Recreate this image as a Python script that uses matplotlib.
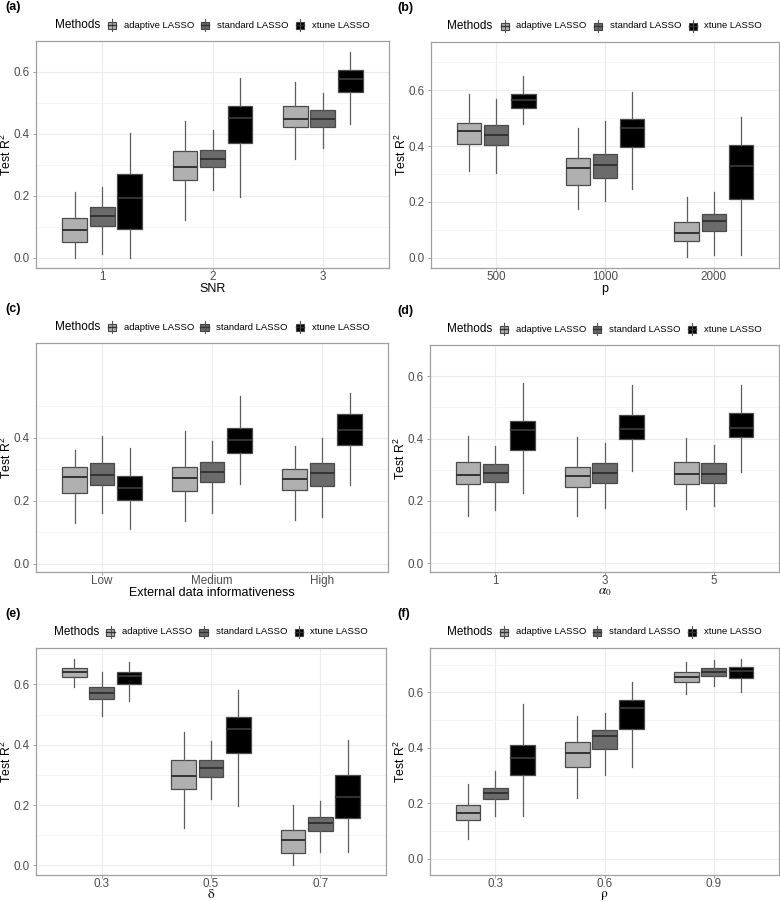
import matplotlib
matplotlib.use("Agg")
import matplotlib.pyplot as plt
from matplotlib.patches import Rectangle
from matplotlib.lines import Line2D

plt.rcParams['font.family'] = ['Liberation Sans', 'DejaVu Sans']
plt.rcParams['mathtext.fontset'] = 'custom'
plt.rcParams['mathtext.rm'] = 'Liberation Sans'
plt.rcParams['mathtext.it'] = 'Liberation Sans:italic'

methods = ['adaptive LASSO', 'standard LASSO', 'xtune LASSO']
fills = ['#B0B0B0', '#6B6B6B', '#000000']

# each row: [whisker low, q1, median, q3, whisker high], one row per level
snr_levels = ['1', '2', '3']
snr_adaptive = [[0.000, 0.050, 0.091, 0.129, 0.211], [0.121, 0.251, 0.293, 0.346, 0.441], [0.320, 0.421, 0.448, 0.490, 0.566]]
snr_standard = [[0.011, 0.102, 0.136, 0.164, 0.230], [0.220, 0.293, 0.320, 0.348, 0.413], [0.355, 0.421, 0.448, 0.477, 0.533]]
snr_xtune = [[0.000, 0.093, 0.193, 0.271, 0.402], [0.195, 0.372, 0.450, 0.491, 0.579], [0.433, 0.535, 0.578, 0.606, 0.663]]

p_levels = ['500', '1000', '2000']
p_adaptive = [[0.311, 0.406, 0.454, 0.484, 0.585], [0.176, 0.260, 0.321, 0.359, 0.466], [0.002, 0.061, 0.089, 0.128, 0.217]]
p_standard = [[0.302, 0.402, 0.438, 0.474, 0.569], [0.204, 0.285, 0.333, 0.373, 0.489], [0.010, 0.096, 0.133, 0.157, 0.235]]
p_xtune = [[0.480, 0.536, 0.564, 0.587, 0.649], [0.247, 0.397, 0.466, 0.497, 0.593], [0.012, 0.210, 0.330, 0.404, 0.505]]

info_levels = ['Low', 'Medium', 'High']
info_adaptive = [[0.130, 0.226, 0.275, 0.307, 0.360], [0.137, 0.231, 0.273, 0.307, 0.422], [0.140, 0.234, 0.270, 0.300, 0.374]]
info_standard = [[0.161, 0.250, 0.283, 0.321, 0.404], [0.162, 0.258, 0.290, 0.322, 0.390], [0.149, 0.248, 0.288, 0.321, 0.400]]
info_xtune = [[0.111, 0.203, 0.240, 0.277, 0.368], [0.252, 0.352, 0.392, 0.432, 0.531], [0.249, 0.378, 0.424, 0.474, 0.540]]

alpha_levels = ['1', '3', '5']
alpha_adaptive = [[0.152, 0.254, 0.284, 0.325, 0.409], [0.152, 0.243, 0.279, 0.309, 0.405], [0.174, 0.253, 0.286, 0.324, 0.402]]
alpha_standard = [[0.171, 0.260, 0.290, 0.319, 0.375], [0.178, 0.257, 0.291, 0.320, 0.386], [0.184, 0.257, 0.286, 0.321, 0.379]]
alpha_xtune = [[0.225, 0.363, 0.426, 0.457, 0.579], [0.295, 0.397, 0.430, 0.475, 0.571], [0.292, 0.405, 0.434, 0.482, 0.571]]

delta_levels = ['0.3', '0.5', '0.7']
delta_adaptive = [[0.590, 0.624, 0.641, 0.654, 0.684], [0.123, 0.252, 0.296, 0.349, 0.441], [0.000, 0.041, 0.083, 0.116, 0.199]]
delta_standard = [[0.496, 0.552, 0.572, 0.591, 0.643], [0.220, 0.294, 0.322, 0.349, 0.413], [0.044, 0.115, 0.141, 0.162, 0.213]]
delta_xtune = [[0.544, 0.601, 0.627, 0.643, 0.676], [0.196, 0.373, 0.451, 0.492, 0.581], [0.045, 0.156, 0.228, 0.301, 0.415]]

rho_levels = ['0.3', '0.6', '0.9']
rho_adaptive = [[0.071, 0.139, 0.165, 0.196, 0.269], [0.218, 0.331, 0.380, 0.420, 0.515], [0.593, 0.637, 0.655, 0.672, 0.709]]
rho_standard = [[0.156, 0.215, 0.237, 0.257, 0.317], [0.301, 0.397, 0.444, 0.464, 0.527], [0.624, 0.660, 0.672, 0.687, 0.718]]
rho_xtune = [[0.155, 0.302, 0.362, 0.410, 0.558], [0.331, 0.467, 0.545, 0.574, 0.636], [0.600, 0.652, 0.678, 0.693, 0.721]]

W, H = 780, 901
fig = plt.figure(figsize=(W / 100, H / 100), dpi=100)


def frac_box(left, top, right, bottom):
    return [left / W, 1 - bottom / H, (right - left) / W, (bottom - top) / H]


def draw_key(cx, cy, fill):
    # small boxplot glyph like ggplot's legend key
    bw, bh = 8, 7
    fig.add_artist(Line2D([cx / W, cx / W], [1 - (cy - 6) / H, 1 - (cy + 6) / H],
                          transform=fig.transFigure, color='#555555', lw=0.8))
    fig.add_artist(Rectangle(((cx - bw / 2) / W, 1 - (cy + bh / 2) / H), bw / W, bh / H,
                             transform=fig.transFigure, facecolor=fill, edgecolor='#444444', lw=0.8))
    fig.add_artist(Line2D([(cx - bw / 2) / W, (cx + bw / 2) / W], [1 - cy / H, 1 - cy / H],
                          transform=fig.transFigure, color='#333333', lw=1.0))


def panel(box, tag, levels, series, xlabel, ylim, yticks, greek=False):
    left, top, right, bottom = box
    ax = fig.add_axes(frac_box(left, top, right, bottom))
    for m, data in enumerate(series):
        stats = []
        for row in data:
            stats.append({'whislo': row[0], 'q1': row[1], 'med': row[2], 'q3': row[3], 'whishi': row[4], 'fliers': []})
        pos = [i + 1 + (m - 1) * 0.25 for i in range(len(levels))]
        ax.bxp(stats, positions=pos, widths=0.225, showcaps=False, showfliers=False,
               patch_artist=True, manage_ticks=False,
               boxprops=dict(facecolor=fills[m], edgecolor='#4A4A4A', lw=0.9),
               whiskerprops=dict(color='#5E5E5E', lw=0.9),
               medianprops=dict(color='#333333', lw=1.4))
    ax.set_xlim(0.4, len(levels) + 0.6)
    ax.set_ylim(*ylim)
    ax.set_xticks(range(1, len(levels) + 1))
    ax.set_xticklabels(levels)
    ax.set_yticks(yticks)
    ax.set_yticklabels(['%.1f' % v for v in yticks])
    ax.set_yticks([0.1, 0.3, 0.5, 0.7], minor=True)
    ax.grid(True, which='major', color='#EBEBEB', lw=0.8)
    ax.grid(True, which='minor', axis='y', color='#F2F2F2', lw=0.5)
    ax.set_axisbelow(True)
    for s in ax.spines.values():
        s.set_color('#A0A0A0')
        s.set_linewidth(0.9)
    ax.tick_params(which='major', length=2.2, width=0.7, color='#A0A0A0', labelsize=8.4,
                   labelcolor='#4D4D4D')
    ax.tick_params(axis='x', pad=0.2)
    ax.tick_params(axis='y', pad=2.6)
    ax.tick_params(which='minor', length=0)

    pw, ph = right - left, bottom - top
    ax.set_ylabel('Test R$^2$', fontsize=8.8)
    ax.yaxis.set_label_coords(-29.5 / pw, 0.5)
    ax.yaxis.label.set_va('center')
    if greek:
        ax.set_xlabel(xlabel, fontsize=9.5, math_fontfamily='stix')
        ax.xaxis.set_label_coords(0.5, -20 / ph)
    else:
        ax.set_xlabel(xlabel, fontsize=9)
        ax.xaxis.set_label_coords(0.5, -21 / ph)
    ax.xaxis.label.set_va('center')

    # panel tag and legend above the panel
    tag_x = 5 if left < 200 else 397
    fig.text(tag_x / W, 1 - (top - 34) / H, tag, fontsize=9, fontweight='bold', va='center', ha='left')
    cx = (left + right) / 2
    ly = top - 16
    fig.text((cx - 157.5) / W, 1 - ly / H, 'Methods', fontsize=8.5, va='center', ha='left')
    for k, off in enumerate([-100.5, -7.5, 87.5]):
        draw_key(cx + off, ly, fills[k])
        fig.text((cx + off + 12) / W, 1 - ly / H, methods[k], fontsize=6.8, va='center', ha='left')
    return ax


panel((36, 41, 389, 268), '(a)', snr_levels, [snr_adaptive, snr_standard, snr_xtune],
      'SNR', (-0.033, 0.699), [0.0, 0.2, 0.4, 0.6])
panel((431, 42, 779, 268), '(b)', p_levels, [p_adaptive, p_standard, p_xtune],
      'p', (-0.036, 0.772), [0.0, 0.2, 0.4, 0.6])
panel((36, 343, 388, 572), '(c)', info_levels, [info_adaptive, info_standard, info_xtune],
      'External data informativeness', (-0.026, 0.572), [0.0, 0.2, 0.4])
panel((430, 345, 779, 572), '(d)', alpha_levels, [alpha_adaptive, alpha_standard, alpha_xtune],
      r'$\alpha_0$', (-0.028, 0.6075), [0.0, 0.2, 0.4, 0.6], greek=True)
panel((36, 648, 386, 875), '(e)', delta_levels, [delta_adaptive, delta_standard, delta_xtune],
      r'$\mathrm{\delta}$', (-0.032, 0.721), [0.0, 0.2, 0.4, 0.6], greek=True)
panel((430, 648, 779, 875), '(f)', rho_levels, [rho_adaptive, rho_standard, rho_xtune],
      r'$\mathrm{\rho}$', (-0.058, 0.760), [0.0, 0.2, 0.4, 0.6], greek=True)

fig.savefig('out.png', dpi=100)
